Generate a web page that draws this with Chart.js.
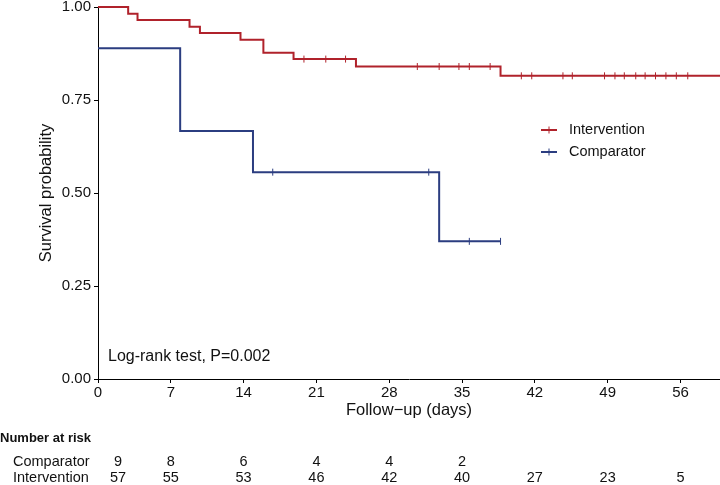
<!DOCTYPE html>
<html>
<head>
<meta charset="utf-8">
<script src="https://cdn.jsdelivr.net/npm/chart.js@4.4.1/dist/chart.umd.min.js"></script>
<style>
  html, body { margin: 0; padding: 0; background: #fff; }
  canvas { display: block; }
</style>
</head>
<body>
<canvas id="km" width="720" height="485"></canvas>
<script>
// Kaplan-Meier curves (time in days, survival probability)
const interventionTimes = [0, 2.9, 3.8, 8.8, 9.8, 13.7, 15.9, 18.8, 24.8, 38.7, 59.8];
const interventionSurv = [1, 0.982, 0.965, 0.947, 0.930, 0.912, 0.877, 0.860, 0.840, 0.815, 0.815];
const interventionCensored = [19.8, 21.9, 23.8, 30.7, 32.8, 34.7, 35.7, 37.7, 40.7, 41.7, 44.7, 45.6,
  48.7, 49.7, 50.6, 51.7, 52.6, 53.6, 54.6, 55.6, 56.7];

const comparatorTimes = [0, 7.9, 14.9, 32.8, 38.7];
const comparatorSurv = [0.889, 0.667, 0.556, 0.370, 0.370];
const comparatorCensored = [16.8, 31.8, 35.7, 38.7];

const xTicks = [0, 7, 14, 21, 28, 35, 42, 49, 56];
const yTicks = [0, 0.25, 0.5, 0.75, 1];

// Number at risk table
const riskTimes = [0, 7, 14, 21, 28, 35, 42, 49, 56];
const riskComparator = [9, 8, 6, 4, 4, 2];
const riskIntervention = [57, 55, 53, 46, 42, 40, 27, 23, 5];

const RED = '#b0222b';
const BLUE = '#2b3d80';
const FONT = '"Liberation Sans", Arial, Helvetica, sans-serif';

// value of a step curve at time t
function stepAt(times, surv, t) {
  let v = surv[0];
  for (let i = 0; i < times.length; i++) {
    if (times[i] <= t) v = surv[i];
  }
  return v;
}

const toPoints = (times, surv) => times.map((t, i) => ({ x: t, y: surv[i] }));
const censorPoints = (cens, times, surv) => cens.map(t => ({ x: t, y: stepAt(times, surv, t) }));

const extras = {
  id: 'extras',
  afterDraw(chart) {
    const ctx = chart.ctx;
    const xs = chart.scales.x;
    ctx.save();

    // log-rank annotation
    ctx.fillStyle = '#111';
    ctx.font = '16px ' + FONT;
    ctx.textAlign = 'left';
    ctx.textBaseline = 'middle';
    ctx.fillText('Log-rank test, P=0.002', 108, 357);

    // legend inside the plot
    const items = [
      { label: chart.data.datasets[0].label, color: RED, y: 130 },
      { label: chart.data.datasets[2].label, color: BLUE, y: 152 }
    ];
    items.forEach(it => {
      ctx.strokeStyle = it.color;
      ctx.lineWidth = 2;
      ctx.beginPath();
      ctx.moveTo(541, it.y);
      ctx.lineTo(557, it.y);
      ctx.stroke();
      ctx.lineWidth = 1;
      ctx.beginPath();
      ctx.moveTo(549, it.y - 3.5);
      ctx.lineTo(549, it.y + 3.5);
      ctx.stroke();
      ctx.fillStyle = '#111';
      ctx.font = '14.5px ' + FONT;
      ctx.textAlign = 'left';
      ctx.fillText(it.label, 569, it.y);
    });

    // number at risk table
    ctx.font = 'bold 13px ' + FONT;
    ctx.fillText('Number at risk', 0, 438);
    ctx.font = '14.5px ' + FONT;
    ctx.fillText('Comparator', 13, 462);
    ctx.fillText('Intervention', 13, 478);
    ctx.textAlign = 'center';
    riskTimes.forEach((t, i) => {
      let px = xs.getPixelForValue(t);
      if (i === 0) px += 20;
      if (riskComparator[i] !== undefined) ctx.fillText(String(riskComparator[i]), px, 462);
      ctx.fillText(String(riskIntervention[i]), px, 478);
    });
    ctx.restore();
  }
};

new Chart(document.getElementById('km'), {
  type: 'line',
  data: {
    datasets: [
      {
        label: 'Intervention',
        data: toPoints(interventionTimes, interventionSurv),
        borderColor: RED,
        borderWidth: 2,
        stepped: 'before',
        pointRadius: 0,
        clip: 4,
        fill: false
      },
      {
        label: 'Intervention censored',
        data: censorPoints(interventionCensored, interventionTimes, interventionSurv),
        showLine: false,
        pointStyle: 'line',
        rotation: 90,
        pointRadius: 3.5,
        borderColor: RED,
        borderWidth: 1,
        clip: 4
      },
      {
        label: 'Comparator',
        data: toPoints(comparatorTimes, comparatorSurv),
        borderColor: BLUE,
        borderWidth: 2,
        stepped: 'before',
        pointRadius: 0,
        clip: 4,
        fill: false
      },
      {
        label: 'Comparator censored',
        data: censorPoints(comparatorCensored, comparatorTimes, comparatorSurv),
        showLine: false,
        pointStyle: 'line',
        rotation: 90,
        pointRadius: 3.5,
        borderColor: BLUE,
        borderWidth: 1,
        clip: 4
      }
    ]
  },
  options: {
    responsive: false,
    devicePixelRatio: 1,
    animation: false,
    layout: { autoPadding: false, padding: { top: 7, right: 0, left: 0, bottom: 0 } },
    plugins: {
      legend: { display: false },
      tooltip: { enabled: false }
    },
    scales: {
      x: {
        type: 'linear',
        min: 0,
        max: 59.8,
        afterBuildTicks: s => { s.ticks = xTicks.map(v => ({ value: v })); },
        afterFit: s => { s.height = 106; s.paddingLeft = 0; s.paddingRight = 0; },
        grid: { drawOnChartArea: false, drawTicks: true, tickLength: 4, color: '#000' },
        border: { display: true, color: '#000', width: 1 },
        ticks: { color: '#111', font: { size: 15, family: FONT }, padding: 1, maxRotation: 0 },
        title: {
          display: true,
          text: 'Follow−up (days)',
          color: '#111',
          font: { size: 16.5, family: FONT },
          padding: { top: 0, bottom: 65 }
        }
      },
      y: {
        min: 0,
        max: 1,
        afterBuildTicks: s => { s.ticks = yTicks.map(v => ({ value: v })); },
        afterFit: s => { s.width = 98; s.paddingTop = 0; s.paddingBottom = 0; },
        grid: { drawOnChartArea: false, drawTicks: true, tickLength: 4, color: '#000' },
        border: { display: true, color: '#000', width: 1 },
        ticks: {
          color: '#111',
          font: { size: 15, family: FONT },
          padding: 3,
          callback: v => v.toFixed(2)
        },
        title: {
          display: true,
          text: 'Survival probability',
          color: '#111',
          font: { size: 16.5, family: FONT },
          padding: { top: 37, bottom: 0 }
        }
      }
    }
  },
  plugins: [extras]
});
</script>
</body>
</html>
